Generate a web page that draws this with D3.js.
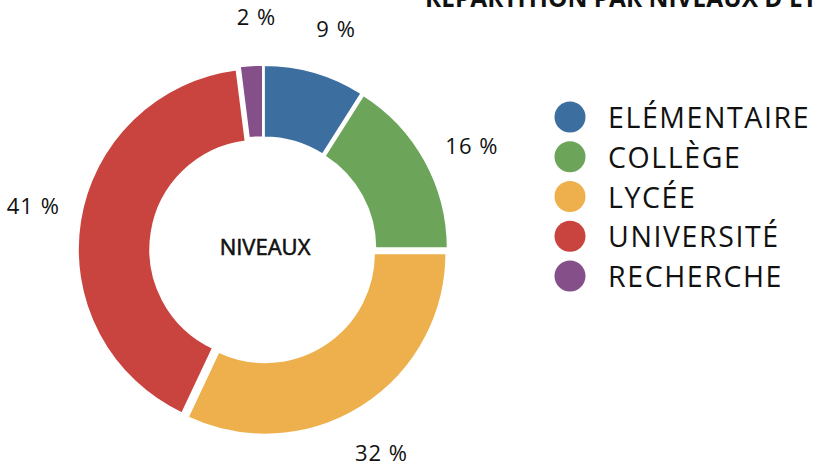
<!DOCTYPE html>
<html>
<head>
<meta charset="utf-8">
<script src="https://cdn.jsdelivr.net/npm/d3@7"></script>
<style>
  body { margin: 0; background: #fff; }
  svg { display: block; font-family: "Open Sans", "Noto Sans", sans-serif; }
</style>
</head>
<body>
<div id="chart"></div>
<script>
// data
const categories = ['ELÉMENTAIRE', 'COLLÈGE', 'LYCÉE', 'UNIVERSITÉ', 'RECHERCHE'];
const values = [9, 16, 32, 41, 2];
const colors = ['#3c6e9f', '#6ca55a', '#edb04c', '#c9443f', '#855089'];
const title = "RÉPARTITION PAR NIVEAUX D'ÉTUDES";
const centerLabel = 'NIVEAUX';

const width = 817;
const height = 468;
const cx = 263;
const cy = 250;
const outerR = 181;
const innerR = 109;
const explode = 4;
const labelR = 234;
const labelTurn = 2 * Math.PI / 180; // labels sit a bit clockwise of the slice middle

const $svg = d3.select('#chart').append('svg')
  .attr('width', width)
  .attr('height', height);

// title, clipped at the top
$svg.append('text')
  .attr('x', 425)
  .attr('y', 7)
  .attr('font-size', 24.5)
  .attr('font-weight', 'bold')
  .attr('fill', '#111')
  .text(title);

const data = categories.map((c, i) => ({ name: c, value: values[i], color: colors[i] }));

const pie = d3.pie().value(d => d.value).sort(null);
const arc = d3.arc().innerRadius(innerR).outerRadius(outerR);
const arcs = pie(data);

const $g = $svg.append('g').attr('transform', `translate(${cx},${cy})`);

const mid = d => (d.startAngle + d.endAngle) / 2;

$g.selectAll('path.slice')
  .data(arcs)
  .join('path')
  .attr('class', 'slice')
  .attr('d', arc)
  .attr('fill', d => d.data.color)
  .attr('stroke', '#fff')
  .attr('stroke-width', 1.5)
  .attr('transform', d => `translate(${Math.sin(mid(d)) * explode},${-Math.cos(mid(d)) * explode})`);

$g.selectAll('text.pct')
  .data(arcs)
  .join('text')
  .attr('class', 'pct')
  .attr('x', d => Math.sin(mid(d) + labelTurn) * labelR)
  .attr('y', d => -Math.cos(mid(d) + labelTurn) * labelR)
  .attr('text-anchor', 'middle')
  .attr('dominant-baseline', 'central')
  .attr('font-size', 22)
  .attr('letter-spacing', 1)
  .attr('fill', '#111')
  .text(d => `${d.data.value} %`);

$g.append('text')
  .attr('x', 2)
  .attr('y', -4)
  .attr('text-anchor', 'middle')
  .attr('dominant-baseline', 'central')
  .attr('font-size', 22)
  .attr('fill', '#111')
  .attr('stroke', '#111')
  .attr('stroke-width', 0.6)
  .text(centerLabel);

// legend
const legendY = d3.scalePoint().domain(categories).range([117, 276]);
const $legend = $svg.append('g');
const $items = $legend.selectAll('g')
  .data(data)
  .join('g')
  .attr('transform', d => `translate(570,${legendY(d.name)})`);

$items.append('circle')
  .attr('r', 15.5)
  .attr('fill', d => d.color);

$items.append('text')
  .attr('x', 38)
  .attr('dominant-baseline', 'central')
  .attr('font-size', 28.5)
  .attr('letter-spacing', 1.6)
  .attr('fill', '#111')
  .text(d => d.name);
</script>
</body>
</html>
